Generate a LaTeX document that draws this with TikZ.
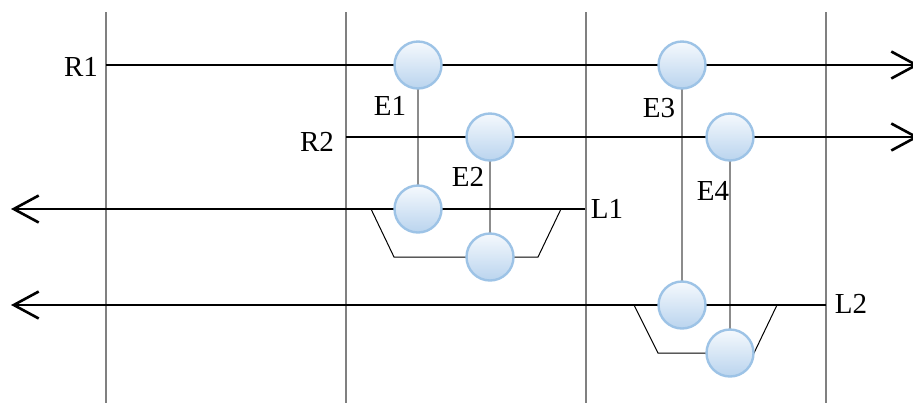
\documentclass[tikz,border=0pt]{standalone}
\usepackage{fontspec}
\setmainfont{Liberation Serif}
\usetikzlibrary{arrows.meta}

\definecolor{evline}{RGB}{157,195,230}
\definecolor{evfill}{RGB}{186,212,238}
\definecolor{evtop}{RGB}{245,249,253}

\begin{document}
\begin{tikzpicture}[x=0.5pt, y=-0.5pt, >={Straight Barb[length=12.5pt,width=13.5pt]},
  font=\fontsize{14.5}{17}\selectfont]

% styles
\tikzset{
  slot/.style={draw=gray, line width=0.65pt},
  flow/.style={->, line width=1.3pt},
  link/.style={draw=gray!90, line width=0.55pt},
  tray/.style={line width=0.5pt},
  event/.style={circle, draw=evline, line width=1.2pt, top color=evtop,
    bottom color=evfill, minimum size=23.5pt, inner sep=0pt},
  lbl/.style={inner sep=0pt},
}

\useasboundingbox (0,0) rectangle (913,403);

% time slots
\foreach \x in {106,346,586,826}
  \draw[slot] (\x,12) -- (\x,403);

% event positions
\coordinate (e1a) at (418,65);
\coordinate (e1b) at (418,209);
\coordinate (e2a) at (490,137);
\coordinate (e2b) at (490,257);
\coordinate (e3a) at (682,65);
\coordinate (e3b) at (682,305);
\coordinate (e4a) at (730,137);
\coordinate (e4b) at (730,353);

% links between events
\draw[link] (e1a) -- (e1b);
\draw[link] (e2a) -- (e2b);
\draw[link] (e3a) -- (e3b);
\draw[link] (e4a) -- (e4b);

% right-going streams
\coordinate (r1s) at (106,65);
\coordinate (r1e) at (919,65);
\coordinate (r2s) at (346,137);
\coordinate (r2e) at (919,137);
\draw[flow] (r1s) -- (r1e);
\draw[flow] (r2s) -- (r2e);
\node[lbl] (r1) at (81,67) {R1};
\node[lbl] (r2) at (317,142) {R2};

% left-going streams
\coordinate (l1s) at (585,209);
\coordinate (l1e) at (11,209);
\coordinate (l2s) at (826,305);
\coordinate (l2e) at (11,305);
\draw[flow] (l1s) -- (l1e);
\draw[flow] (l2s) -- (l2e);
\node[lbl] (l1) at (607,209) {L1};
\node[lbl] (l2) at (851,304) {L2};

% trays under the left streams
\draw[tray] (371,209) -- (394,257) -- (538,257) -- (561,209);
\draw[tray] (634,305) -- (658,353) -- (754,353) -- (777,305);

% events
\foreach \e in {e1a,e1b,e2a,e2b,e3a,e3b,e4a,e4b}
  \node[event] (\e c) at (\e) {};

% event labels
\node[lbl] (t1) at (390,106) {E1};
\node[lbl] (t2) at (468,177) {E2};
\node[lbl] (t3) at (659,108) {E3};
\node[lbl] (t4) at (713,191) {E4};

\end{tikzpicture}
\end{document}
